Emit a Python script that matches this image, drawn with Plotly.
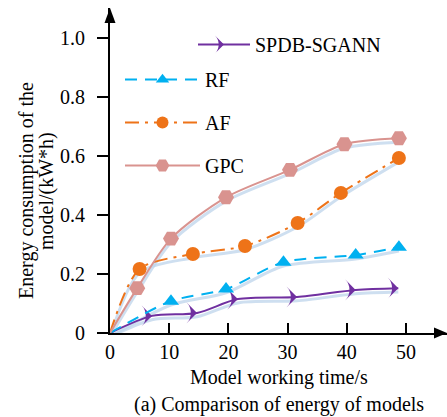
import plotly.graph_objects as go

# ---- data ----
spdb_t = [0, 7.1, 14.7, 21.6, 31.6, 41.5, 48.7]
spdb_e = [0, 0.058, 0.068, 0.115, 0.122, 0.146, 0.152]

rf_t = [0, 10.3, 19.6, 29.3, 41.5, 48.8]
rf_e = [0, 0.108, 0.149, 0.240, 0.264, 0.291]

af_t = [0, 5.0, 14.0, 22.8, 31.7, 39.0, 48.8]
af_e = [0, 0.217, 0.268, 0.295, 0.373, 0.475, 0.593]

gpc_t = [0, 4.6, 10.3, 19.6, 30.4, 39.6, 48.8]
gpc_e = [0, 0.152, 0.320, 0.460, 0.553, 0.640, 0.660]

x_ticks = [0, 10, 20, 30, 40, 50]
y_ticks = [0, 0.2, 0.4, 0.6, 0.8, 1.0]
y_ticktext = ["0", "0.2", "0.4", "0.6", "0.8", "1.0"]

FONT = "Liberation Serif, Times New Roman, serif"
SHADOW = "rgba(190,212,235,0.75)"
SHADOW_DY = 0.013

series = [
    dict(name="SPDB-SGANN", t=spdb_t, e=spdb_e, color="#7030a0", dash="solid",
         symbol="arrow-wide", angle=90, size=15, legend="legend2"),
    dict(name="RF", t=rf_t, e=rf_e, color="#00b0f0", dash="12px,8px",
         symbol="triangle-up", angle=0, size=14, legend="legend"),
    dict(name="AF", t=af_t, e=af_e, color="#ee7318", dash="14px,6px,3px,6px",
         symbol="circle", angle=0, size=14, legend="legend"),
    dict(name="GPC", t=gpc_t, e=gpc_e, color="#d9938f", dash="solid",
         symbol="hexagon2", angle=0, size=16, legend="legend"),
]

fig = go.Figure()

# shadows first
for s in series:
    fig.add_trace(go.Scatter(
        x=s["t"], y=[v - SHADOW_DY for v in s["e"]], mode="lines",
        line=dict(color=SHADOW, width=3, shape="spline", smoothing=0.8),
        showlegend=False, hoverinfo="skip"))

for s in series:
    sizes = [0] + [s["size"]] * (len(s["t"]) - 1)
    fig.add_trace(go.Scatter(
        x=s["t"], y=s["e"], mode="lines+markers", name=s["name"],
        line=dict(color=s["color"], width=2, dash=s["dash"], shape="spline", smoothing=0.8),
        marker=dict(symbol=s["symbol"], size=sizes, color=s["color"], angle=s["angle"],
                    opacity=1, line=dict(width=0)),
        legend=s["legend"], legendgroup=s["name"]))

# plot area pixels: left 110, right 447, top 8, bottom 333
W, H = 447, 417
L, R, T, B = 110, 447, 8, 333
pw, ph = R - L, B - T

fig.update_layout(
    width=W, height=H,
    margin=dict(l=L, r=W - R, t=T, b=H - B),
    paper_bgcolor="white", plot_bgcolor="white",
    font=dict(family=FONT, size=20, color="black"),
    legend=dict(x=(120 - L) / pw, y=(333 - 60) / ph, xanchor="left", yanchor="top",
                bgcolor="rgba(0,0,0,0)", itemwidth=75, tracegroupgap=14,
                font=dict(family=FONT, size=20)),
    legend2=dict(x=(193 - L) / pw, y=(333 - 25) / ph, xanchor="left", yanchor="top",
                 bgcolor="rgba(0,0,0,0)", itemwidth=52, font=dict(family=FONT, size=20)),
)

fig.update_xaxes(range=[0, pw / 5.92], showgrid=False, zeroline=False,
                 showline=True, linecolor="black", linewidth=2,
                 tickvals=x_ticks, ticks="inside", ticklen=10, tickwidth=2,
                 tickcolor="black", tickfont=dict(family=FONT, size=20))
fig.update_yaxes(range=[0, ph / 295.0], showgrid=False, zeroline=False,
                 showline=True, linecolor="black", linewidth=2,
                 tickvals=y_ticks, ticktext=y_ticktext, ticks="outside", ticklen=11,
                 tickwidth=2, tickcolor="black", tickfont=dict(family=FONT, size=20),
                 ticklabelstandoff=8)

# axis arrows
ax_h, ax_w = 15 / ph, 5.5 / pw
fig.add_shape(type="path", xref="paper", yref="paper",
              path=f"M {-ax_w} {1 - ax_h} L 0 1 L {ax_w} {1 - ax_h} Z",
              fillcolor="black", line=dict(width=0))
ax_l, ax_hh = 13 / pw, 5.5 / ph
fig.add_shape(type="path", xref="paper", yref="paper",
              path=f"M {1 - ax_l} {-ax_hh} L 1 0 L {1 - ax_l} {ax_hh} Z",
              fillcolor="black", line=dict(width=0))

# titles
fig.add_annotation(text="Model working time/s", xref="paper", yref="paper",
                   x=0.5, y=(B - 377) / ph, xanchor="center", yanchor="middle",
                   showarrow=False, font=dict(family=FONT, size=20))
fig.add_annotation(text="(a) Comparison of energy of models", xref="paper", yref="paper",
                   x=0.5, y=(B - 404) / ph, xanchor="center", yanchor="middle",
                   showarrow=False, font=dict(family=FONT, size=20))
fig.add_annotation(text="Energy consumption of the", xref="paper", yref="paper",
                   x=(27 - L) / pw, y=(B - 191) / ph, xanchor="center", yanchor="middle",
                   textangle=-90, showarrow=False, font=dict(family=FONT, size=20))
fig.add_annotation(text="model/(kW*h)", xref="paper", yref="paper",
                   x=(47 - L) / pw, y=(B - 191) / ph, xanchor="center", yanchor="middle",
                   textangle=-90, showarrow=False, font=dict(family=FONT, size=20))

fig.write_html("out.html")
